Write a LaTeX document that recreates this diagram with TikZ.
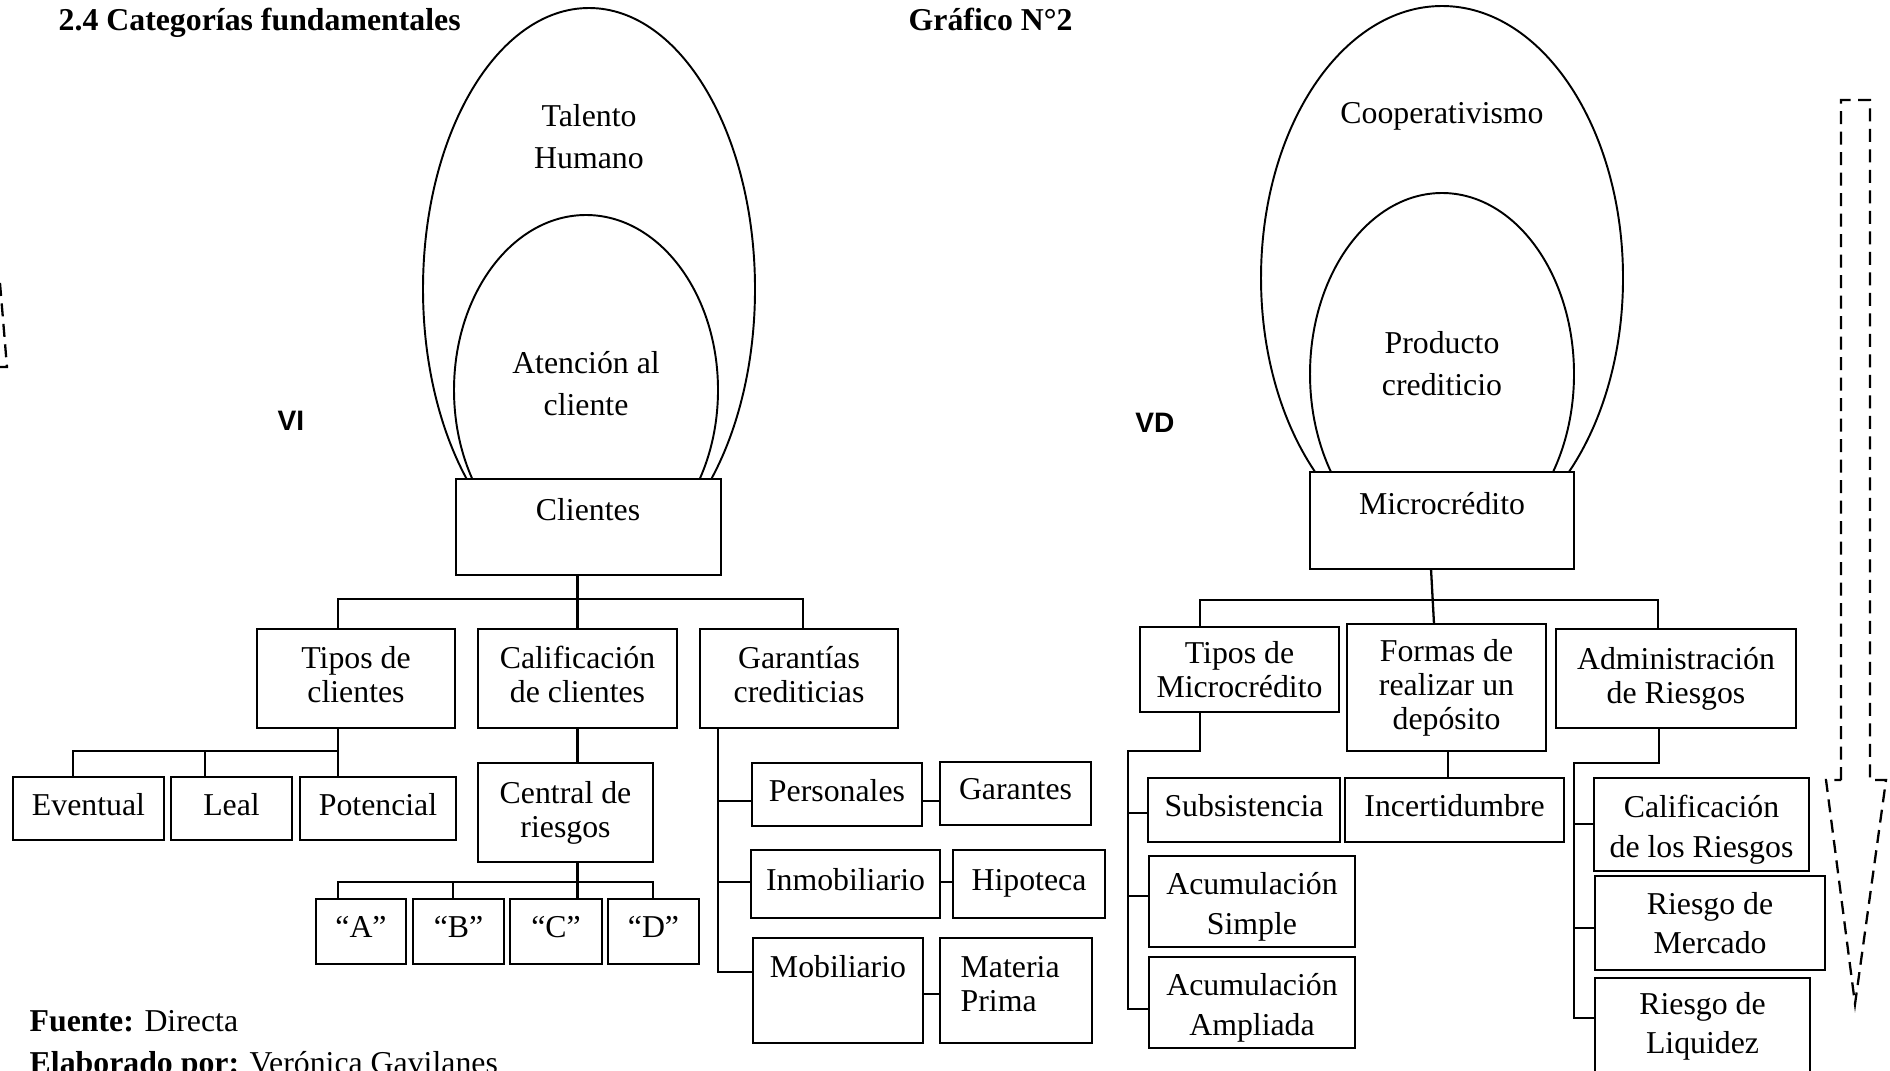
\documentclass[tikz,border=0pt]{standalone}
\usepackage{fontspec}
\setmainfont{Liberation Serif}
\newfontfamily\arialfont{Liberation Sans}

\tikzset{
  box/.style={draw, line width=0.65pt, inner sep=0pt, outer sep=0pt, align=center, anchor=north west},
  one/.style={text depth=2.4pt},
  link/.style={line width=0.65pt},
  oval/.style={line width=0.55pt},
  txt/.style={align=center, inner sep=0pt},
  var/.style={inner sep=0pt, font=\arialfont\bfseries\fontsize{8}{9.6}\selectfont},
  head/.style={anchor=base west, inner sep=0pt},
  flow/.style={line width=0.65pt, dash pattern=on 1.3mm off 0.75mm},
}

\begin{document}
\begin{tikzpicture}[x=0.1mm, y=-0.1mm, font=\fontsize{9.05}{9.64}\selectfont]
		\useasboundingbox (0,0) rectangle (1890,1070);

		\node[head, font=\bfseries\fontsize{9.05}{9.64}\selectfont] (tit) at (58,30) {2.4 Categorías fundamentales};
		\node[head, font=\bfseries\fontsize{9.05}{9.64}\selectfont] (gra) at (908,30) {Gráfico N°2};

		\begin{scope}
			\clip (0,0) rectangle (1890,479);
			\draw[oval] (589,289) ellipse [x radius=16.6mm, y radius=28.1mm];
			\draw[oval] (586,390) ellipse [x radius=13.2mm, y radius=17.5mm];
		\end{scope}
		\node[txt] (tal) at (589,137) {Talento\\[2.3pt]Humano};
		\node[txt] (ate) at (586,384) {Atención al\\[2.3pt]cliente};
		\node[var] (vi) at (291,421) {VI};

		\node[box, minimum width=26.5mm, minimum height=9.6mm] (cli) at (456,479) {};
		\node[txt] (cli-t) at (588,510) {Clientes};
		\node[box, one, minimum width=19.8mm, minimum height=9.9mm] (tip) at (257,629) {Tipos de\\clientes};
		\node[box, one, minimum width=19.9mm, minimum height=9.9mm] (cal) at (478,629) {Calificación\\de clientes};
		\node[box, one, minimum width=19.8mm, minimum height=9.9mm] (gar) at (700,629) {Garantías\\crediticias};

		\node[box, one, minimum width=15.1mm, minimum height=6.3mm] (eve) at (13,777) {Eventual};
		\node[box, one, minimum width=12.1mm, minimum height=6.3mm] (lea) at (171,777) {Leal};
		\node[box, one, minimum width=15.6mm, minimum height=6.3mm] (pot) at (300,777) {Potencial};
		\node[box, minimum width=17.5mm, minimum height=9.9mm] (cen) at (478,763) {Central de\\riesgos};
		\node[box, one, minimum width=9.0mm, minimum height=6.5mm] (ca) at (316,899) {“A”};
		\node[box, one, minimum width=9.1mm, minimum height=6.5mm] (cb) at (413,899) {“B”};
		\node[box, one, minimum width=9.2mm, minimum height=6.5mm] (cc) at (510,899) {“C”};
		\node[box, one, minimum width=9.1mm, minimum height=6.5mm] (cd) at (608,899) {“D”};

		\node[box, one, minimum width=17.0mm, minimum height=6.3mm] (per) at (752,763) {Personales};
		\node[box, one, minimum width=15.1mm, minimum height=6.3mm] (gte) at (940,762) {Garantes};
		\node[box, one, minimum width=18.9mm, minimum height=6.8mm] (inm) at (751,850) {Inmobiliario};
		\node[box, one, minimum width=15.2mm, minimum height=6.8mm] (hip) at (953,850) {Hipoteca};
		\node[box, minimum width=17.0mm, minimum height=10.5mm] (mob) at (753,938) {};
		\node[txt] (mob-t) at (838,967) {Mobiliario};
		\node[box, minimum width=15.2mm, minimum height=10.5mm] (mat) at (940,938) {};
		\node[txt, anchor=west, align=left] (mat-t) at (960,984) {Materia\\Prima};

		\draw[link] (cal.north) -- (cal.north |- cli.south);
		\draw[link] (tip.north -| 338,0) -- (338,599) -- (803,599) -- (gar.north -| 803,0);
		\draw[link] (tip.south -| 338,0) -- (338,751) -| (eve.north -| 73,0);
		\draw[link] (205,751) -- (lea.north -| 205,0);
		\draw[link] (338,751) -- (pot.north -| 338,0);
		\draw[link] (cal.south) -- (cal.south |- cen.north);
		\draw[link] (cen.south -| cal.south) -- (cal.south |- cc.north);
		\draw[link] (ca.north -| 338,0) -- (338,882) -- (653,882) -- (cd.north -| 653,0);
		\draw[link] (453,882) -- (cb.north -| 453,0);
		\draw[link] (gar.south -| 718,0) |- (mob.west |- 0,972);
		\draw[link] (718,801) -- (per.west |- 0,801);
		\draw[link] (718,882) -- (inm.west |- 0,882);
		\draw[link] (per.east |- 0,801) -- (gte.west |- 0,801);
		\draw[link] (inm.east |- 0,882) -- (hip.west |- 0,882);
		\draw[link] (mob.east |- 0,994) -- (mat.west |- 0,994);

		\begin{scope}
			\clip (0,0) rectangle (1890,472);
			\draw[oval] (1442,278) ellipse [x radius=18.1mm, y radius=27.2mm];
			\draw[oval] (1442,374) ellipse [x radius=13.2mm, y radius=18.1mm];
		\end{scope}
		\node[txt] (coo) at (1442,116) {Cooperativismo};
		\node[txt] (pro) at (1442,364) {Producto\\[2.3pt]crediticio};
		\node[var] (vd) at (1155,423) {VD};

		\node[box, minimum width=26.4mm, minimum height=9.7mm] (mic) at (1310,472) {};
		\node[txt] (mic-t) at (1442,504) {Microcrédito};
		\node[box, minimum width=19.9mm, minimum height=8.5mm] (tmi) at (1140,627) {Tipos de\\Microcrédito};
		\node[box, minimum width=19.9mm, minimum height=12.7mm] (for) at (1347,624) {Formas de\\realizar un\\depósito};
		\node[box, minimum width=24.0mm, minimum height=9.9mm] (adm) at (1556,629) {Administración\\de Riesgos};

		\node[box, one, minimum width=19.2mm, minimum height=6.4mm] (sub) at (1148,778) {Subsistencia};
		\node[box, minimum width=20.6mm, minimum height=9.1mm] (sim) at (1149,856) {\rule{0pt}{9.3pt}Acumulación\\[1.5pt]Simple};
		\node[box, minimum width=20.6mm, minimum height=9.1mm] (amp) at (1149,957) {\rule{0pt}{9.3pt}Acumulación\\[1.5pt]Ampliada};
		\node[box, one, minimum width=21.9mm, minimum height=6.4mm] (inc) at (1345,778) {Incertidumbre};
		\node[box, minimum width=21.5mm, minimum height=9.3mm] (crg) at (1594,778) {\rule{0pt}{9.3pt}Calificación\\[1.5pt]de los Riesgos};
		\node[box, minimum width=23.0mm, minimum height=9.4mm] (mer) at (1595,876) {Riesgo de\\[1.5pt]Mercado};
		\node[box, minimum width=21.5mm, minimum height=9.7mm] (liq) at (1595,978) {Riesgo de\\[1.5pt]Liquidez};

		\draw[link] (mic.south -| 1431,0) -- (for.north -| 1434,0);
		\draw[link] (tmi.north -| 1200,0) |- (1658,600) -- (adm.north -| 1658,0);
		\draw[link] (tmi.south -| 1200,0) -- (1200,751) -| (1128,1009) -- (amp.west |- 0,1009);
		\draw[link] (1128,813) -- (sub.west |- 0,813);
		\draw[link] (1128,896) -- (sim.west |- 0,896);
		\draw[link] (for.south -| 1448,0) -- (inc.north -| 1448,0);
		\draw[link] (adm.south -| 1659,0) -- (1659,763) -| (1574,1018) -- (liq.west |- 0,1018);
		\draw[link] (1574,824) -- (crg.west |- 0,824);
		\draw[link] (1574,928) -- (mer.west |- 0,928);

		\draw[flow] (1841,780) -- (1841,100) -- (1870,100) -- (1870,780) -- (1886,780) -- (1855,1004) -- (1826,780) -- cycle;
		\draw[flow] (0,283) -- (7,367) -- (0,367);

		\node[head] (fue) at (29,1031) {\textbf{Fuente:} Directa};
		\node[head] (ela) at (29,1073) {\textbf{Elaborado por:} Verónica Gavilanes};
\end{tikzpicture}
\end{document}
